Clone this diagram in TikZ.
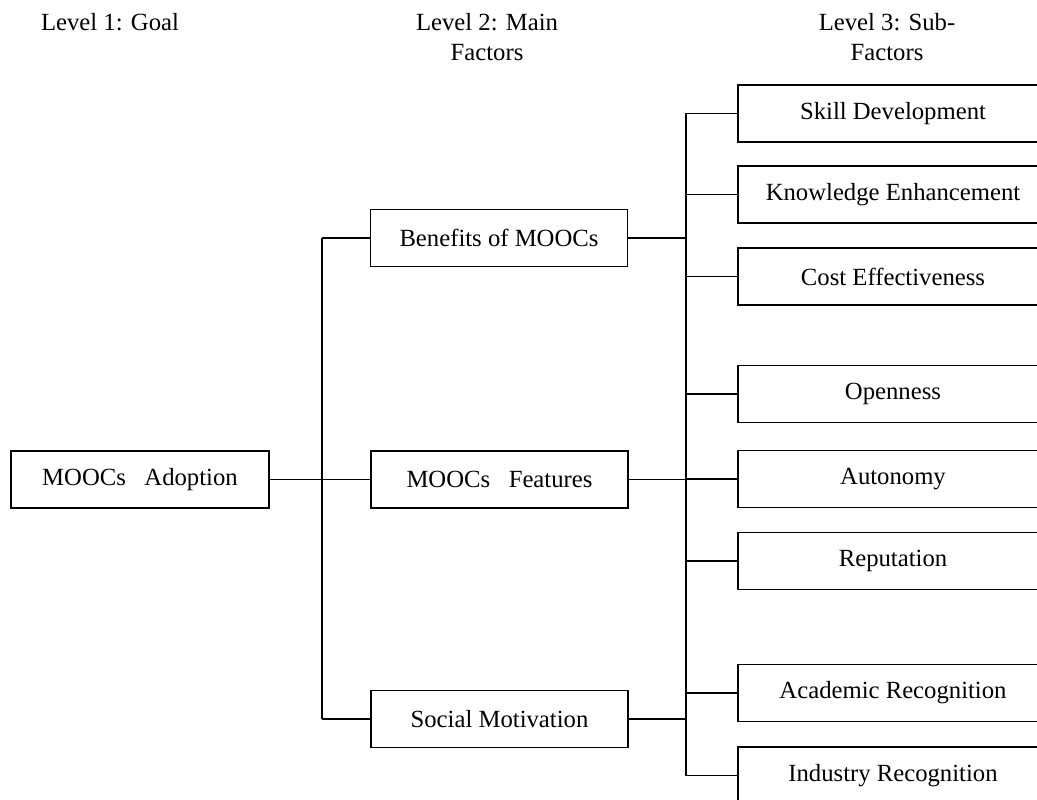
\documentclass[tikz,border=0pt]{standalone}
\usepackage{fontspec}
\setmainfont{Liberation Serif}
\begin{document}
\begin{tikzpicture}[x=1pt,y=-1pt,
  every node/.style={font=\fontsize{24.7}{30}\selectfont, inner sep=0pt},
  box/.style={draw, line width=1.9pt, minimum height=57pt},
  goalbox/.style={box, minimum width=258pt},
  mainbox/.style={box, minimum width=257pt},
  subbox/.style={box, minimum width=310pt},
  conn/.style={line width=1.9pt},
  head/.style={align=center}]
\useasboundingbox (0,0) rectangle (1037,800);
% headers
\node[head] (h1) at (110,22) {Level 1: Goal};
\node[head] (h2) at (487,37) {Level 2: Main\\Factors};
\node[head] (h3) at (887,37) {Level 3: Sub-\\Factors};
% level 1
\node[goalbox] (goal) at (140,479.5) {MOOCs\ \ \ Adoption};
% level 2
\node[mainbox] (ben) at (499,238) {Benefits of MOOCs};
\node[mainbox] (feat) at (499.5,479.5) {MOOCs\ \ \ Features};
\node[mainbox] (soc) at (499.5,719) {Social Motivation};
% level 3
\node[subbox] (sd) at (893,113.5) {Skill Development};
\node[subbox] (ke) at (893,194.5) {Knowledge Enhancement};
\node[subbox] (ce) at (893,276.5) {Cost Effectiveness};
\node[subbox] (op) at (893,394) {Openness};
\node[subbox] (au) at (893,479) {Autonomy};
\node[subbox] (re) at (893,561) {Reputation};
\node[subbox] (ar) at (893,693) {Academic Recognition};
\node[subbox] (ir) at (893,775.5) {Industry Recognition};
% trunks
\coordinate (t1) at (322,0);
\coordinate (t2) at (686,0);
\draw[conn] (t1 |- ben.west) -- (t1 |- soc.west);
\draw[conn] (t2 |- sd.west) -- (t2 |- ir.west);
% level 1 -> level 2
\draw[conn] (goal.east) -- (feat.west);
\draw[conn] (t1 |- ben.west) -- (ben.west);
\draw[conn] (t1 |- soc.west) -- (soc.west);
% level 2 -> trunk 2
\draw[conn] (ben.east) -- (ben.east -| t2);
\draw[conn] (feat.east) -- (feat.east -| t2);
\draw[conn] (soc.east) -- (soc.east -| t2);
% trunk 2 -> level 3
\foreach \n in {sd,ke,ce,op,au,re,ar,ir}
  \draw[conn] (t2 |- \n.west) -- (\n.west);
\end{tikzpicture}
\end{document}
